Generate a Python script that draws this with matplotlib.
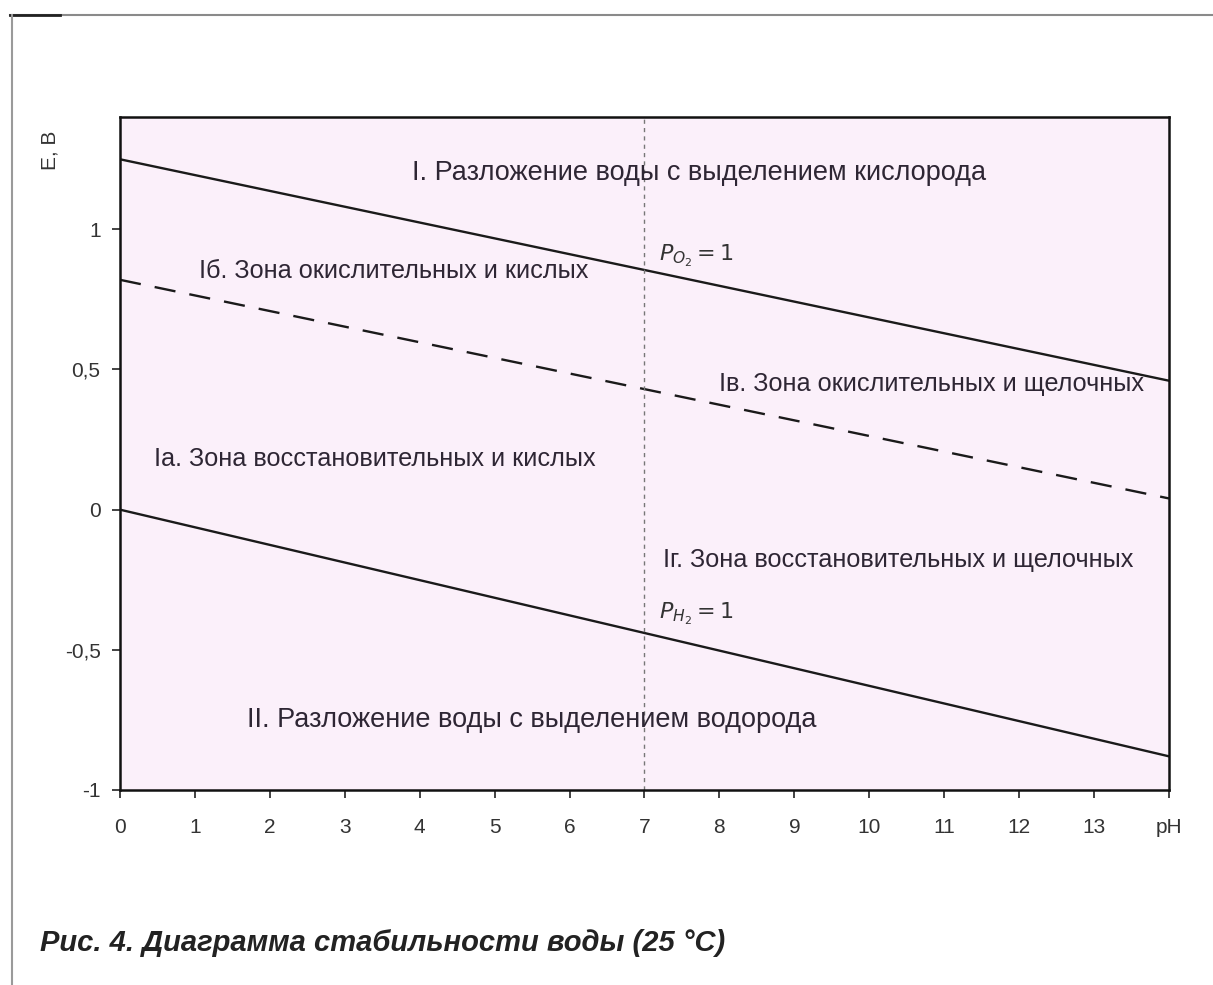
import matplotlib.pyplot as plt
from matplotlib.lines import Line2D

plt.rcParams['font.family'] = ['Liberation Sans', 'DejaVu Sans']

# ------------------------------------------------
# Data: boundary lines of the water stability diagram
# ------------------------------------------------
ph_ends = [0, 14]
e_oxygen = [1.25, 0.46]      # P(O2) = 1
e_neutral = [0.82, 0.04]     # oxidizing / reducing border
e_hydrogen = [0.0, -0.88]    # P(H2) = 1
ph_neutral = 7

x_ticks = list(range(15))
x_labels = [str(v) for v in range(14)] + ["pH"]
y_ticks = [-1, -0.5, 0, 0.5, 1]
y_labels = ["-1", "-0,5", "0", "0,5", "1"]

# regions where water itself decomposes
decomp_labels = [
    (3.9, 1.20, "I. Разложение воды с выделением кислорода"),
    (1.7, -0.75, "II. Разложение воды с выделением водорода"),
]
# stability field of water, split by the dashed line and pH 7
zone_labels = [
    (1.05, 0.85, "Iб. Зона окислительных и кислых"),
    (8.0, 0.45, "Iв. Зона окислительных и щелочных"),
    (0.45, 0.18, "Iа. Зона восстановительных и кислых"),
    (7.25, -0.18, "Iг. Зона восстановительных и щелочных"),
]

# ------------------------------------------------
# Figure
# ------------------------------------------------
fig = plt.figure(figsize=(12.13, 9.85), dpi=100)
ax = fig.add_axes([0.0989, 0.198, 0.8648, 0.683])
ax.set_facecolor("#fbf0fa")

ax.plot(ph_ends, e_oxygen, color="#1a1a1a", lw=1.7)
ax.plot(ph_ends, e_neutral, color="#1a1a1a", lw=1.7, dashes=(9, 6))
ax.plot(ph_ends, e_hydrogen, color="#1a1a1a", lw=1.7)
ax.axvline(ph_neutral, color="#777777", lw=1.0, dashes=(3, 3))

ax.set_xlim(0, 14)
ax.set_ylim(-1, 1.4)

ax.set_xticks(x_ticks)
ax.set_xticklabels(x_labels)
ax.set_yticks(y_ticks)
ax.set_yticklabels(y_labels)
ax.tick_params(axis="both", labelsize=15, length=6, width=1.2, color="#222222",
               labelcolor="#333333")
ax.tick_params(axis="x", pad=14)
ax.tick_params(axis="y", pad=8)

for sp in ax.spines.values():
    sp.set_linewidth(1.8)
    sp.set_color("#111111")

for x, y, txt in decomp_labels:
    ax.text(x, y, txt, fontsize=19.5, color="#2e2634", va="center", ha="left")
for x, y, txt in zone_labels:
    ax.text(x, y, txt, fontsize=18.2, color="#2e2634", va="center", ha="left")

ax.text(7.2, 0.86, r"$P_{O_2}=1$", fontsize=16, color="#333333", va="bottom")
ax.text(7.2, -0.42, r"$P_{H_2}=1$", fontsize=16, color="#333333", va="bottom")

fig.text(50 / 1213, 1 - 150 / 985, "E, B", rotation=90, fontsize=15,
         color="#333333", ha="center", va="center")

fig.text(40 / 1213, 1 - 943 / 985, "Рис. 4. Диаграмма стабильности воды (25 °С)",
         fontsize=21, fontweight="bold", fontstyle="italic", color="#222222",
         va="center", ha="left")

# outer border of the figure
fig.add_artist(Line2D([10 / 1213, 1], [1 - 15 / 985, 1 - 15 / 985],
                      color="#8a8a8a", lw=1.5))
fig.add_artist(Line2D([10 / 1213, 60 / 1213], [1 - 15 / 985, 1 - 15 / 985],
                      color="#222222", lw=2))
fig.add_artist(Line2D([12 / 1213, 12 / 1213], [0, 1 - 15 / 985],
                      color="#9a9a9a", lw=1.5))

fig.savefig("out.png", dpi=100)
